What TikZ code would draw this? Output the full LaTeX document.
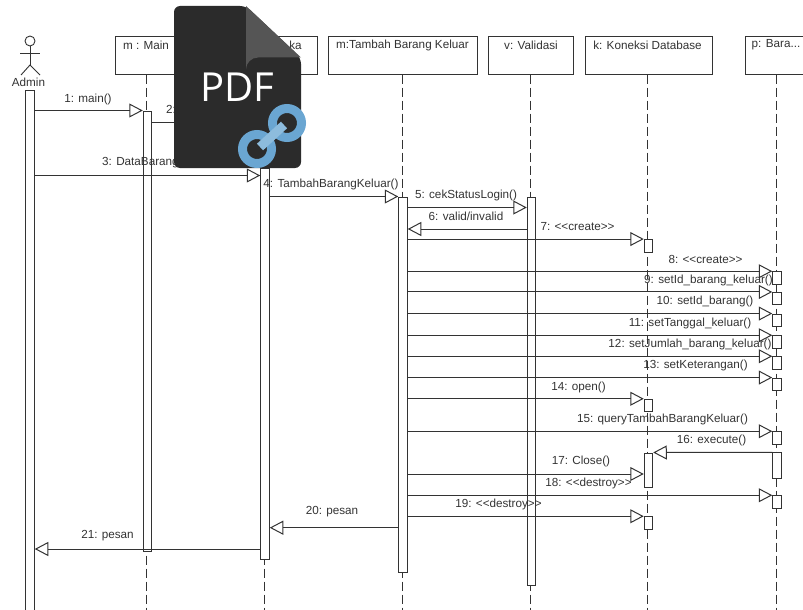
\documentclass[tikz,border=0pt]{standalone}
\usepackage{fontspec}
\setmainfont{Liberation Sans}
\newfontfamily\iconfont{Open Sans}
\usetikzlibrary{arrows.meta,positioning}
\definecolor{umlline}{HTML}{333333}
\definecolor{icondark}{HTML}{2B2B2B}
\definecolor{iconfold}{HTML}{555555}
\definecolor{iconlink}{HTML}{6AA6D2}
\definecolor{iconbar}{HTML}{8DBCDD}

\begin{document}
\begin{tikzpicture}[
    x=1pt, y=-1pt,
    every node/.style={font=\fontsize{11.7}{13}\selectfont, text=umlline, inner sep=0pt},
    lifebox/.style={rectangle, draw=umlline, line width=1pt, fill=white, minimum height=37.5pt},
    actbar/.style={rectangle, draw=umlline, line width=1pt, fill=white, minimum width=8.5pt},
    life/.style={draw=umlline, line width=1pt, dash pattern=on 9pt off 4pt},
    msg/.style={draw=umlline, line width=1pt, -{Triangle[open, length=13.5pt, width=14pt, line width=1pt]}},
    stick/.style={draw=umlline, line width=0.9pt},
]
\useasboundingbox (0,0) rectangle (803,610);

% Row 1: Objects
\node[lifebox, minimum width=62pt]  (mainbox)   at (146, 55.3) {};
\node[lifebox, minimum width=106pt] (bukabox)   at (264, 55.3) {};
\node[lifebox, minimum width=149pt] (tambahbox) at (402.7, 55.3) {};
\node[lifebox, minimum width=85pt]  (validbox)  at (531, 55.3) {};
\node[lifebox, minimum width=127pt] (konekbox)  at (648.5, 55.3) {};
\node[lifebox, minimum width=62pt]  (barabox)   at (776, 55.3) {};

\node (maintitle)   at (146, 45) {m : Main};
\node (bukatitle)   at (295.5, 45) {ka};
\node (tambahtitle) at (402.5, 45) {m:Tambah Barang Keluar};
\node (validtitle)  at (531, 45) {v: Validasi};
\node (konektitle)  at (647.5, 45) {k: Koneksi Database};
\node (baratitle)   at (776, 45) {p: Bara...};

% Actor
\node[circle, draw=umlline, line width=0.9pt, minimum size=10pt] (adminhead) at (30, 41) {};
\coordinate (adminhip) at (30, 65);
\draw[stick] (adminhead) -- (adminhip);
\draw[stick] (20, 53.5) -- (40, 53.5);
\draw[stick] (21, 75) -- (adminhip) -- (40, 75);
\node (admintitle) at (28.5, 82.5) {Admin};

% Lifelines
\draw[life] (mainbox)   -- (mainbox |- 0,610);
\draw[life] (bukabox)   -- (bukabox |- 0,610);
\draw[life] (tambahbox) -- (tambahbox |- 0,610);
\draw[life] (validbox.south -| 530,0) -- (530,610);
\draw[life] (konekbox.south -| 647,0) -- (647,610);
\draw[life] (barabox)   -- (barabox |- 0,610);

% Long activations
\node[actbar, minimum height=521pt] (adminact)  at (30, 350.5) {};
\node[actbar, minimum height=440pt] (mainact)   at (147.5, 331) {};
\node[actbar, minimum height=391pt] (bukaact)   at (265, 363.5) {};
\node[actbar, minimum height=375pt] (tambahact) at (403, 384.5) {};
\node[actbar, minimum height=388pt] (validact)  at (531.5, 391) {};

% Koneksi activations
\node[actbar, minimum height=12.5pt] (konekA) at (648.5, 245.8) {};
\node[actbar, minimum height=12.5pt] (konekB) at (648.5, 405.5) {};
\node[actbar, minimum height=34pt]   (konekC) at (648.5, 470) {};
\node[actbar, minimum height=12.5pt] (konekD) at (648.5, 523) {};

% Bara activations
\node[actbar, minimum height=12.5pt] (baraA) at (777, 278) {};
\node[actbar, minimum height=12.5pt] (baraB) at (777, 298.7) {};
\node[actbar, minimum height=12.5pt] (baraC) at (777, 320.3) {};
\node[actbar, minimum height=12.5pt] (baraD) at (777, 342) {};
\node[actbar, minimum height=12.5pt] (baraE) at (777, 363) {};
\node[actbar, minimum height=12.5pt] (baraF) at (777, 384.3) {};
\node[actbar, minimum height=12.5pt] (baraG) at (777, 438) {};
\node[actbar, minimum height=25.5pt] (baraH) at (777, 465.5) {};
\node[actbar, minimum height=12.5pt] (baraI) at (777, 502) {};

% Messages
\draw[msg] (adminact.east |- mainact.north) -- (mainact.north west);
\draw[msg] (mainact.east |- 0,122) -- (bukaact.west |- 0,122);
\draw[msg] (adminact.east |- 0,175.5) -- (bukaact.west |- 0,175.5);
\draw[msg] (bukaact.east |- tambahact.north) -- (tambahact.north west);
\draw[msg] (tambahact.east |- 0,207.5) -- (validact.west |- 0,207.5);
\draw[msg] (validact.west |- 0,229) -- (tambahact.east |- 0,229);
\draw[msg] (tambahact.east |- konekA.north) -- (konekA.north west);
\draw[msg] (tambahact.east |- baraA.north) -- (baraA.north west);
\draw[msg] (tambahact.east |- baraB.north) -- (baraB.north west);
\draw[msg] (tambahact.east |- baraC.north) -- (baraC.north west);
\draw[msg] (tambahact.east |- baraD.north) -- (baraD.north west);
\draw[msg] (tambahact.east |- baraE.north) -- (baraE.north west);
\draw[msg] (tambahact.east |- baraF.north) -- (baraF.north west);
\draw[msg] (tambahact.east |- konekB.north) -- (konekB.north west);
\draw[msg] (tambahact.east |- baraG.north) -- (baraG.north west);
\draw[msg] (baraH.north west) -- (konekC.north east);
\draw[msg] (tambahact.east |- 0,474) -- (konekC.west |- 0,474);
\draw[msg] (tambahact.east |- baraI.north) -- (baraI.north west);
\draw[msg] (tambahact.east |- konekD.north) -- (konekD.north west);
\draw[msg] (tambahact.west |- 0,527.7) -- (bukaact.east |- 0,527.7);
\draw[msg] (bukaact.west |- 0,549) -- (adminact.east |- 0,549);

% Message labels
\node (lblA) at (88, 99) {1: main()};
\node[anchor=west] (lblB) at (166, 109) {2:};
\node[anchor=west] (lblC) at (102, 163) {3:  DataBarang};
\node (lblD) at (331, 184) {4: TambahBarangKeluar()};
\node (lblE) at (466, 195) {5: cekStatusLogin()};
\node (lblF) at (466, 216) {6: valid/invalid};
\node (lblG) at (577.5, 227) {7: <{}<create>{}>};
\node (lblH) at (705.5, 259) {8: <{}<create>{}>};
\node (lblI) at (708.5, 280) {9: setId\_barang\_keluar()};
\node (lblJ) at (705, 301) {10: setId\_barang()};
\node (lblK) at (690, 323) {11: setTanggal\_keluar()};
\node (lblL) at (690, 344) {12: setJumlah\_barang\_keluar()};
\node (lblM) at (695.5, 365) {13: setKeterangan()};
\node (lblN) at (578.5, 387) {14: open()};
\node (lblO) at (662.5, 419) {15: queryTambahBarangKeluar()};
\node (lblP) at (711.5, 440) {16: execute()};
\node (lblQ) at (581, 461) {17: Close()};
\node (lblR) at (588.5, 483) {18: <{}<destroy>{}>};
\node (lblS) at (498.5, 504) {19: <{}<destroy>{}>};
\node (lblT) at (332, 512) {20: pesan};
\node (lblU) at (107.5, 536) {21: pesan};

% PDF badge on top
\fill[icondark, rounded corners=6pt] (174,6) -- (246,6) -- (301,58) -- (301,168) -- (174,168) -- cycle;
\fill[iconfold] (246,6) -- (301,57.5) -- (258,57.5) arc[start angle=90, end angle=180, radius=12pt] -- cycle;
\node[font=\iconfont\fontsize{40}{44}\selectfont, text=white] (pdflabel) at (237, 87) {PDF};
\draw[iconlink, line width=9pt] (257,149) circle (14.5pt);
\draw[iconlink, line width=9pt] (287,123) circle (14.5pt);
\draw[iconbar, line width=9pt] (260,147) -- (284,125);

\end{tikzpicture}
\end{document}
